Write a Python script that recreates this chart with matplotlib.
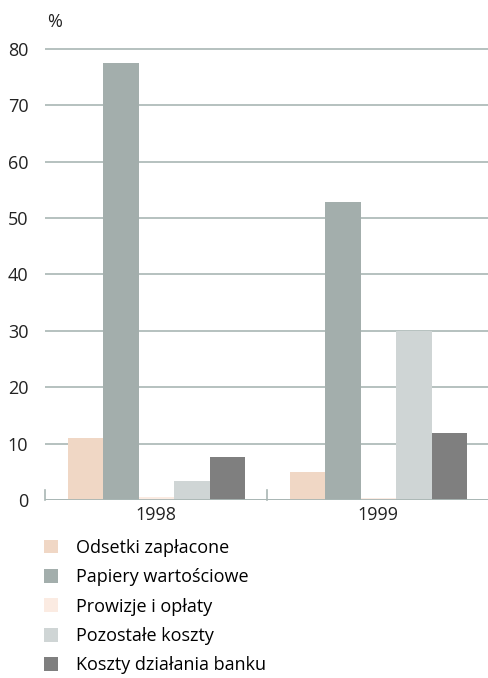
import matplotlib
matplotlib.use("Agg")
import matplotlib.pyplot as plt
import numpy as np
from matplotlib.patches import Patch

plt.rcParams['font.family'] = ['Open Sans', 'DejaVu Sans']

# Struktura kosztów (%)
years = ['1998', '1999']
series = ['Odsetki zapłacone', 'Papiery wartościowe', 'Prowizje i opłaty',
          'Pozostałe koszty', 'Koszty działania banku']
odsetki = [11.0, 5.0]
papiery = [77.4, 52.8]
prowizje = [0.5, 0.4]
pozostale = [3.4, 30.0]
koszty = [7.6, 11.8]
colors = ['#f0d7c5', '#a3aeac', '#fbebe2', '#cfd5d5', '#7f7f7f']
values = [odsetki, papiery, prowizje, pozostale, koszty]

fig = plt.figure(figsize=(4.89, 6.78), dpi=100)
ax = fig.add_axes([0.092, 0.2625, 0.908, 0.668])

x = np.arange(len(years))
w = 0.16
for i, (vals, c) in enumerate(zip(values, colors)):
    ax.bar(x + (i - 2) * w + 0.003, vals, width=w, color=c, zorder=3)

ax.set_xlim(-0.5, 1.5)
ax.set_ylim(0, 80.3)
ax.set_yticks(range(0, 81, 10))
ax.yaxis.grid(True, color='#a9b6b4', linewidth=1.2, zorder=0)
ax.set_xticks(x)
ax.set_xticklabels(years)
ax.tick_params(axis='both', length=0, labelsize=13, colors='#222222', pad=4)
ax.tick_params(axis='y', pad=12)
for s in ax.spines.values():
    s.set_visible(False)
ax.axhline(0, color='#a9b6b4', linewidth=2.0, zorder=4)
# separators between year groups
for xs in [-0.5, 0.5]:
    ax.plot([xs, xs], [0, 1.8], color='#a9b6b4', linewidth=1.2, zorder=4, clip_on=False)

fig.text(0.096, 0.967, '%', fontsize=13, ha='left', va='center', color='#222222')

handles = [Patch(facecolor=c, edgecolor='none') for c in colors]
fig.legend(handles, series, loc='upper left', bbox_to_anchor=(0.075, 0.216),
           frameon=False, fontsize=13, handlelength=0.8, handleheight=0.8,
           handletextpad=1.0, labelspacing=0.63, borderaxespad=0)

fig.savefig('out.png', dpi=100)
